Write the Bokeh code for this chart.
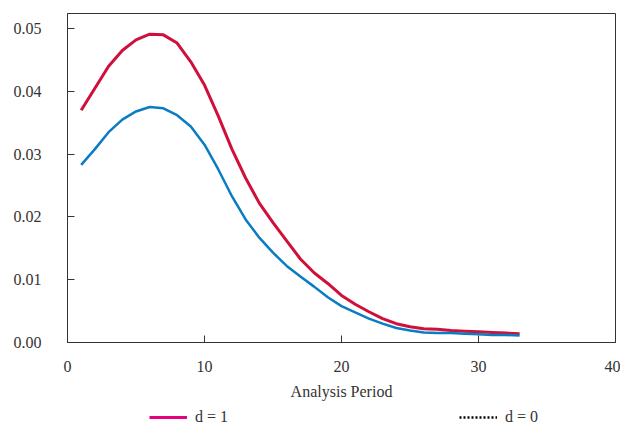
from bokeh.plotting import figure
from bokeh.layouts import column
from bokeh.models import FixedTicker, PrintfTickFormatter, Legend, LegendItem, Range1d
from bokeh.embed import file_html
from bokeh.resources import INLINE

period = list(range(1, 34))
d1 = [0.0370, 0.0405, 0.0440, 0.0465, 0.0482, 0.0491, 0.0490, 0.0477, 0.0447, 0.0410,
      0.0361, 0.0308, 0.0262, 0.0222, 0.0191, 0.0162, 0.0133, 0.0111, 0.0094, 0.0075,
      0.0061, 0.0049, 0.0038, 0.0030, 0.0025, 0.0022, 0.0021, 0.0019, 0.0018, 0.0017,
      0.0016, 0.0015, 0.0014]
d0 = [0.0283, 0.0308, 0.0335, 0.0355, 0.0368, 0.0375, 0.0373, 0.0362, 0.0344, 0.0315,
      0.0276, 0.0233, 0.0196, 0.0167, 0.0143, 0.0122, 0.0105, 0.0089, 0.0072, 0.0058,
      0.0048, 0.0038, 0.0030, 0.0023, 0.0019, 0.0016, 0.0015, 0.0015, 0.0014, 0.0013,
      0.0012, 0.0012, 0.0011]
x_ticks = [10, 20, 30, 40]
y_ticks = [0.0, 0.01, 0.02, 0.03, 0.04, 0.05]
legend_labels = ["d = 1", "d = 0"]

FONT = "Liberation Serif"
TXT = "#333333"

p = figure(width=620, height=404, output_backend="svg", toolbar_location=None,
           x_range=Range1d(0, 40), y_range=Range1d(0, 0.0524),
           min_border_left=67, min_border_right=5, min_border_top=13, min_border_bottom=62)
p.xgrid.visible = False
p.ygrid.visible = False
p.outline_line_color = TXT
p.outline_line_width = 1
p.background_fill_color = "white"
p.border_fill_color = "white"

for ax in (p.xaxis[0], p.yaxis[0]):
    ax.major_tick_in = 7
    ax.major_tick_out = 0
    ax.minor_tick_in = 0
    ax.minor_tick_out = 0
    ax.axis_line_color = TXT
    ax.major_tick_line_color = TXT
    ax.major_label_text_font = FONT
    ax.major_label_text_font_size = "16px"
    ax.major_label_text_color = TXT

p.xaxis[0].ticker = FixedTicker(ticks=[0] + x_ticks)
p.xaxis[0].major_label_standoff = 18
p.xaxis[0].axis_label = "Analysis Period"
p.xaxis[0].axis_label_text_font = FONT
p.xaxis[0].axis_label_text_font_size = "16px"
p.xaxis[0].axis_label_text_font_style = "normal"
p.xaxis[0].axis_label_text_color = TXT
p.xaxis[0].axis_label_standoff = 8

p.yaxis[0].ticker = FixedTicker(ticks=y_ticks)
p.yaxis[0].formatter = PrintfTickFormatter(format="%.2f")
p.yaxis[0].major_label_standoff = 26

p.line(period, d1, line_color="#d0103a", line_width=3)
p.line(period, d0, line_color="#0a7cc4", line_width=2.5)

# legend strip
lf = figure(width=620, height=22, output_backend="svg", toolbar_location=None,
            x_range=Range1d(0, 1), y_range=Range1d(0, 1),
            x_axis_type=None, y_axis_type=None,
            min_border_left=0, min_border_right=0, min_border_top=0, min_border_bottom=0)
lf.xgrid.visible = False
lf.ygrid.visible = False
lf.outline_line_color = None
lf.background_fill_color = "white"
lf.border_fill_color = "white"

# off-range dummy renderers that only feed the legend swatches
leg_r1 = lf.line(x=[5, 6], y=[5, 5], line_color="#e5007d", line_width=3)
leg_r0 = lf.line(x=[5, 6], y=[5, 5], line_color="black", line_width=2.5, line_dash="2 2")

lg = Legend(items=[LegendItem(label=legend_labels[0], renderers=[leg_r1]),
                   LegendItem(label=legend_labels[1], renderers=[leg_r0])],
            location=(82, 0), orientation="horizontal",
            glyph_width=38, glyph_height=12, label_width=34, label_height=12,
            label_standoff=8, padding=0, margin=0, spacing=230,
            border_line_color=None, background_fill_alpha=0,
            label_text_font=FONT, label_text_font_size="16px",
            label_text_color=TXT)
lf.add_layout(lg, "center")

layout = column(p, lf, spacing=0)
open("out.html", "w").write(file_html(layout, INLINE))
